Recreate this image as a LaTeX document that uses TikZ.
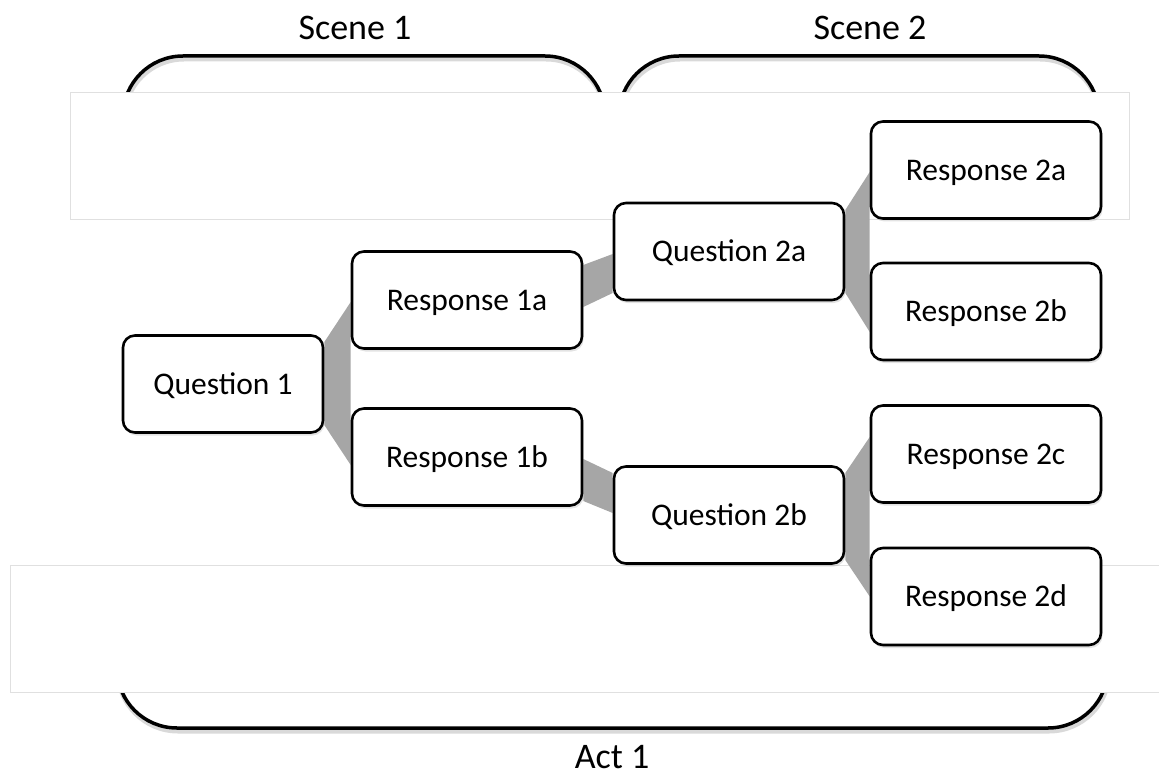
\documentclass[tikz,border=0pt]{standalone}
\usepackage{fontspec}
\setmainfont{Carlito}
\usetikzlibrary{calc,shadows,backgrounds}

\begin{document}
\begin{tikzpicture}[x=1pt, y=-1pt,
		box/.style={draw, line width=2.6pt, rounded corners=12pt, fill=white,
			minimum width=230pt, minimum height=97pt, inner sep=0pt,
			font=\fontsize{31.5}{38}\selectfont, text height=20.5pt, text depth=0pt,
			drop shadow={opacity=0.22, shadow xshift=1.5pt, shadow yshift=-3pt}},
		band/.style={fill=gray!70},
		bracket/.style={line width=3.5pt, rounded corners=60pt},
		bracketshade/.style={bracket, line width=5pt, black, opacity=0.15, xshift=1pt, yshift=-3pt},
		cover/.style={fill=white, draw=black!12, line width=0.8pt},
		heading/.style={font=\fontsize{36}{43}\selectfont}]
		\useasboundingbox (0, 0) rectangle (1159, 778);

		\node [box, minimum width=200pt] (q1) at (223, 384) {Question 1};
		\node [box] (r1a) at (467, 300) {Response 1a};
		\node [box] (r1b) at (467, 457) {Response 1b};
		\node [box] (q2a) at (729, 251.5) {Question 2a};
		\node [box] (q2b) at (729, 515) {Question 2b};
		\node [box] (r2a) at (986, 170) {Response 2a};
		\node [box] (r2b) at (986, 311.5) {Response 2b};
		\node [box] (r2c) at (986, 454) {Response 2c};
		\node [box] (r2d) at (986, 596.5) {Response 2d};

		\node [heading] (scene1) at (355, 28) {Scene 1};
		\node [heading] (scene2) at (870, 28) {Scene 2};
		\node [heading] (act1) at (612, 757) {Act 1};

		\begin{scope}[on background layer]
			% brackets, mostly hidden behind the covers
			\draw [bracketshade] (123, 150) -- (123, 56) -- (605, 56) -- (605, 150);
			\draw [bracketshade] (619, 150) -- (619, 56) -- (1099, 56) -- (1099, 150);
			\draw [bracketshade] (117, 620) -- (117, 728) -- (1108, 728) -- (1108, 620);
			\draw [bracket] (123, 150) -- (123, 56) -- (605, 56) -- (605, 150);
			\draw [bracket] (619, 150) -- (619, 56) -- (1099, 56) -- (1099, 150);
			\draw [bracket] (117, 620) -- (117, 728) -- (1108, 728) -- (1108, 620);

			\draw [cover] (70, 92) rectangle (1129, 219);
			\draw [cover] (10, 565) rectangle (1175, 692);

			% bands
			\fill [band] ($(q1.east)+(0,-42)$) -- ($(r1a.west)+(0,2)$) -- ($(r1b.west)+(0,8)$) -- ($(q1.east)+(0,41)$) -- cycle;
			\fill [band] ($(r1a.east)+(0,-35)$) -- ($(q2a.west)+(0,2.5)$) -- ($(q2a.west)+(0,41.5)$) -- ($(r1a.east)+(0,7)$) -- cycle;
			\fill [band] ($(r1b.east)+(0,2)$) -- ($(q2b.west)+(0,-42)$) -- ($(q2b.west)+(0,-2)$) -- ($(r1b.east)+(0,44)$) -- cycle;
			\fill [band] ($(q2a.east)+(0,-41.5)$) -- ($(r2a.west)+(0,2)$) -- ($(r2b.west)+(0,20.5)$) -- ($(q2a.east)+(0,41.5)$) -- cycle;
			\fill [band] ($(q2b.east)+(0,-42)$) -- ($(r2c.west)+(0,-17)$) -- ($(r2d.west)+(0,0)$) -- ($(q2b.east)+(0,45)$) -- cycle;
		\end{scope}
	\end{tikzpicture}
\end{document}
